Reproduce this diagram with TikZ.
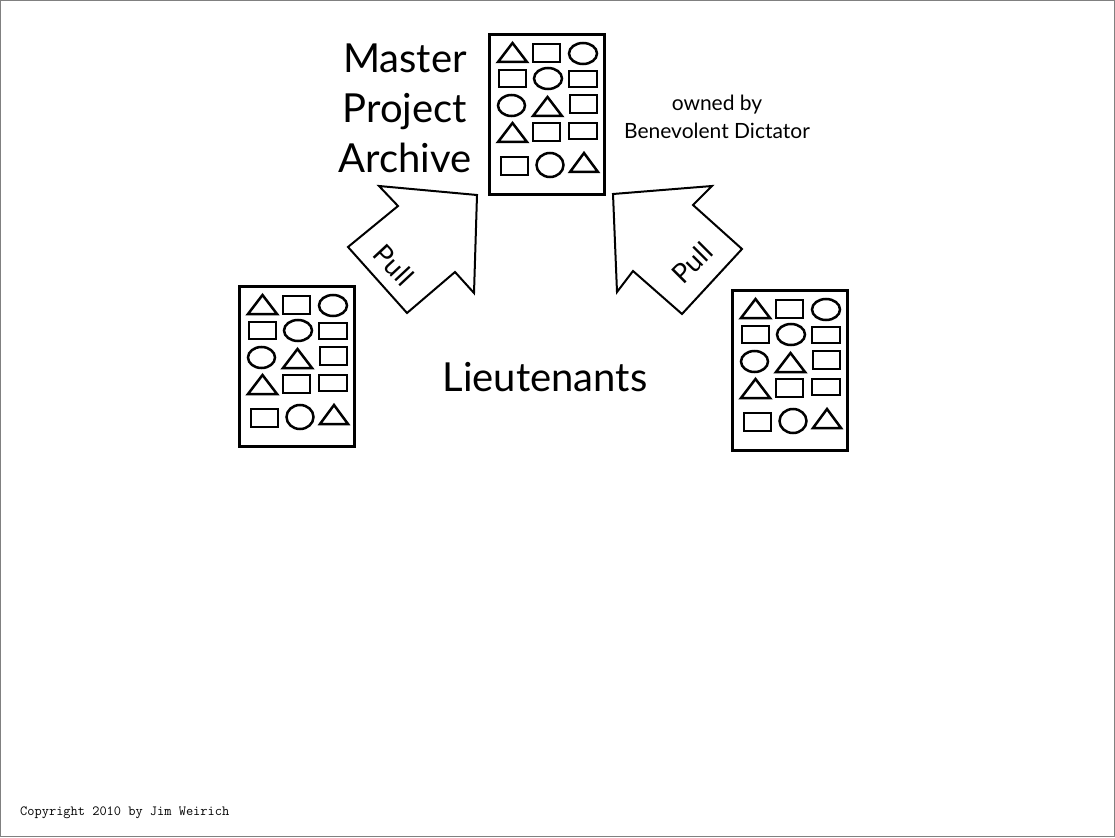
\documentclass[tikz,border=0pt]{standalone}
\usepackage{fontspec}
\setmainfont{Lato}
\begin{document}
\begin{tikzpicture}[x=1pt,y=-1pt,
  shp/.style={line width=2.5pt, line join=miter},
  docbox/.style={draw, line width=3pt, rectangle, minimum width=115pt, minimum height=160pt, inner sep=0pt, anchor=north west},
  bigarrow/.style={draw, line width=2pt, line join=miter, fill=white},
  pulltxt/.style={font=\fontsize{27}{27}\selectfont, inner sep=0pt},
  bigtxt/.style={font=\fontsize{40}{50}\selectfont, align=center, inner sep=0pt},
  smalltxt/.style={font=\fontsize{21}{28}\selectfont, align=center, inner sep=0pt}]
\newcommand{\mytri}[4]{\draw[shp] (#1,#4) -- ({(#1+#2)/2},#3) -- (#2,#4) -- cycle;}
\newcommand{\myrect}[4]{\draw[shp] (#1,#2) rectangle (#3,#4);}
\newcommand{\myell}[4]{\draw[shp] (#1,#2) ellipse [x radius=#3, y radius=#4];}
\newcommand{\mydoc}[3]{%
  \node[docbox] (#1) at (#2,#3) {};
  \begin{scope}[shift={(#2,#3)}]
    \mytri{10}{39}{10}{29} \myrect{45}{11}{72}{29} \myell{95}{20.5}{14}{10.5}
    \myrect{11}{37}{38}{54} \myell{60}{45.5}{14}{10.5} \myrect{81}{38}{109}{54}
    \myell{23.5}{72.5}{13.5}{10.5} \mytri{45}{74}{64}{83} \myrect{82}{62}{109}{80}
    \mytri{10}{39}{90}{109} \myrect{45}{90}{72}{108} \myrect{81}{90}{109}{106}
    \myrect{13}{124}{40}{142} \myell{62}{132}{13.5}{12} \mytri{82}{110}{120}{139}
  \end{scope}}
% page frame
\draw[gray, line width=1pt] (0.5,0.5) rectangle (1114.5,836.5);
\useasboundingbox (0,0) rectangle (1115,837);
% documents
\mydoc{master}{488}{33}
\mydoc{leftdoc}{238}{285}
\mydoc{rightdoc}{731}{289}
% arrows
\draw[bigarrow] (348,247) -- (398,206) -- (379,186) -- (477,195) -- (474,293) -- (455,272) -- (407,313) -- cycle;
\draw[bigarrow] (613,194) -- (712,186) -- (693,205) -- (742,249) -- (682,314) -- (633,271) -- (617,292) -- cycle;
\node[pulltxt, rotate=-47] (pullL) at (394,265) {Pull};
\node[pulltxt, rotate=45] (pullR) at (692,263) {Pull};
% texts
\node[bigtxt, anchor=north] (mtxt) at (405,44) {Master\\Project\\Archive};
\node[smalltxt] (owned) at (717,117) {owned by\\Benevolent Dictator};
\node[bigtxt, anchor=base] (lieut) at (545,391) {Lieutenants};
\node[font=\ttfamily\fontsize{14}{14}\selectfont, anchor=base west, inner sep=0pt] (copy) at (20,815) {Copyright 2010 by Jim Weirich};
\end{tikzpicture}
\end{document}
